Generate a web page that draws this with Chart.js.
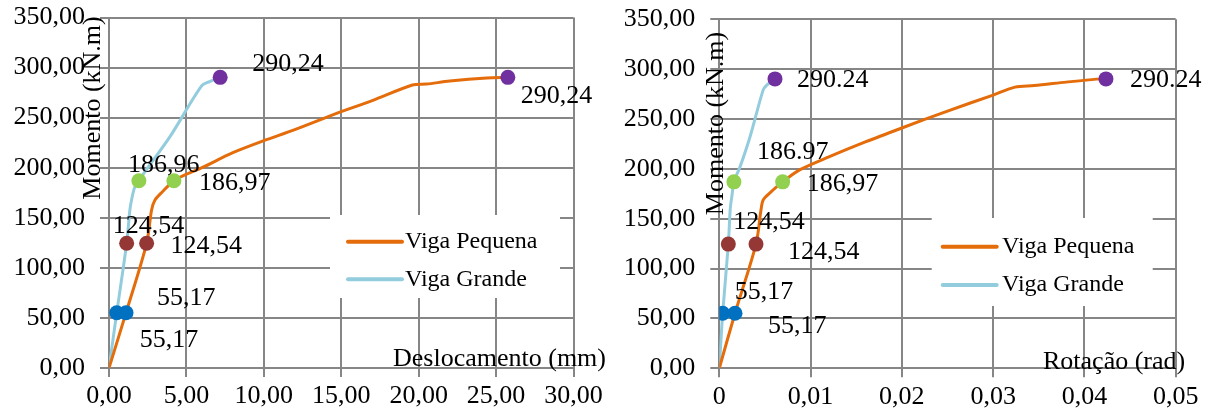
<!DOCTYPE html>
<html>
<head>
<meta charset="utf-8">
<script src="https://cdn.jsdelivr.net/npm/chart.js@4.4.1/dist/chart.umd.min.js"></script>
<style>
  html, body { margin: 0; padding: 0; background: #fff; }
  #wrap { position: relative; width: 1214px; height: 414px; overflow: hidden; }
  .painel { position: absolute; top: 0; width: 607px; height: 414px; }
</style>
</head>
<body>
<div id="wrap">
  <div class="painel" style="left:0"><canvas id="gDesloc" width="607" height="414"></canvas></div>
  <div class="painel" style="left:607px"><canvas id="gRot" width="607" height="414"></canvas></div>
</div>
<script>
// ---- Momento x deslocamento (mm) ----
const deslocPequena   = [0, 1.1, 2.43, 2.75, 2.97, 3.45, 4.19, 4.8, 6, 8, 10, 12, 15, 17, 19.6, 20.5, 22, 24.4, 25.76];
const momentoPequenaD = [0, 55.17, 124.54, 157.8, 167.8, 176, 186.97, 192, 200, 215, 227, 238, 256, 267, 282.6, 283.5, 286.5, 289.6, 290.24];
const deslocGrande    = [0, 0.5, 1.14, 1.35, 1.46, 1.65, 1.93, 2.55, 3.94, 5.98, 6.5, 7.18];
const momentoGrandeD  = [0, 55.17, 124.54, 158, 168, 180, 186.96, 201, 231, 281.6, 286, 290.24];

// ---- Momento x rotação (rad) ----
const rotPequena      = [0, 0.00172, 0.00402, 0.00457, 0.00482, 0.00555, 0.00694, 0.0088, 0.012, 0.016, 0.02, 0.025, 0.03, 0.0324, 0.0345, 0.038, 0.0413, 0.04236];
const momentoPequenaR = [0, 55.17, 124.54, 159, 169, 176, 186.97, 199, 212, 227, 241, 258, 274, 282, 283.5, 287, 290, 290.24];
const rotGrande       = [0, 0.00037, 0.00099, 0.0012, 0.0014, 0.0016, 0.00227, 0.00336, 0.0048, 0.0052, 0.0061];
const momentoGrandeR  = [0, 55.17, 124.54, 160, 174, 186.97, 202, 232, 279, 284, 290.24];

// índices dos pontos notáveis de cada curva
const marcosPequenaD = [1, 2, 6, 18];
const marcosGrandeD  = [1, 2, 6, 11];
const marcosPequenaR = [1, 2, 6, 17];
const marcosGrandeR  = [1, 2, 5, 10];

// separador decimal usado em cada rótulo
const sepPequenaD = [',', ',', ',', ','];
const sepGrandeD  = [',', ',', ',', ','];
const sepPequenaR = [',', ',', ',', '.'];
const sepGrandeR  = [',', ',', '.', '.'];

// textos dos eixos
const yTicks        = ['0,00', '50,00', '100,00', '150,00', '200,00', '250,00', '300,00', '350,00'];
const xTicksDesloc  = ['0,00', '5,00', '10,00', '15,00', '20,00', '25,00', '30,00'];
const xTicksRot     = ['0', '0,01', '0,02', '0,03', '0,04', '0,05'];
const nomesSeries   = ['Viga Pequena', 'Viga Grande'];
const tituloY       = 'Momento (kN.m)';
const tituloXDesloc = 'Deslocamento (mm)';
const tituloXRot    = 'Rotação (rad)';

// estilo
const fonteSerif = "'Liberation Serif', 'Times New Roman', serif";
const corGrade = '#868686';
const corPequena = '#E46C0A';
const corGrande = '#93CDDD';
const coresMarcos = ['#0070C0', '#953735', '#92D050', '#7030A0'];

// deslocamento de cada rótulo em relação ao seu ponto (px)
const posRotPequenaD = [[31, -15], [24, 3], [25, 2], [13, 19]];
const posRotGrandeD  = [[23, 27], [-14, -17], [-11, -16], [32, -13]];
const posRotPequenaR = [[33, 13], [32, 8], [24, 2], [24, 1]];
const posRotGrandeR  = [[12, -21], [5, -22], [23, -30], [22, 1]];

function pares(xs, ys) { return xs.map((x, i) => ({ x, y: ys[i] })); }

function serieLinha(nome, xs, ys, cor, ordem) {
  return {
    label: nome, data: pares(xs, ys), showLine: true,
    borderColor: cor, backgroundColor: cor, borderWidth: 3,
    pointRadius: 0, pointHoverRadius: 0, tension: 0.3, order: ordem
  };
}

function serieMarcos(xs, ys, idx, seps, pos) {
  return {
    label: '', data: idx.map(i => ({ x: xs[i], y: ys[i] })), showLine: false,
    pointRadius: 7.5, pointHoverRadius: 7.5, pointBorderWidth: 0,
    pointBackgroundColor: coresMarcos, pointBorderColor: coresMarcos, order: 0,
    rotulos: idx.map((i, k) => ({
      texto: ys[i].toFixed(2).replace('.', seps[k]), dx: pos[k][0], dy: pos[k][1]
    }))
  };
}

const pluginAnotacoes = {
  id: 'anotacoes',
  afterDraw(chart, args, o) {
    const ctx = chart.ctx;
    ctx.save();
    ctx.textBaseline = 'middle';

    // legenda
    const lg = o.legenda;
    ctx.fillStyle = '#fff';
    ctx.fillRect(lg.x, lg.y, lg.w, lg.h);
    ctx.font = '24px ' + fonteSerif;
    ctx.textAlign = 'left';
    chart.data.datasets.filter(d => !d.rotulos).forEach((ds, k) => {
      const y = lg.linha0 + k * lg.passo;
      ctx.strokeStyle = ds.borderColor;
      ctx.lineWidth = 4;
      ctx.lineCap = 'round';
      ctx.beginPath();
      ctx.moveTo(lg.amostra0, y);
      ctx.lineTo(lg.amostra1, y);
      ctx.stroke();
      ctx.fillStyle = '#000';
      ctx.fillText(ds.label, lg.textoX, y);
    });

    ctx.fillStyle = '#000';
    ctx.font = '26px ' + fonteSerif;

    // rótulos de valores
    chart.data.datasets.forEach((ds, i) => {
      if (!ds.rotulos) return;
      chart.getDatasetMeta(i).data.forEach((pt, j) => {
        const r = ds.rotulos[j];
        ctx.fillText(r.texto, pt.x + r.dx, pt.y + r.dy);
      });
    });

    // títulos dos eixos
    const tx = o.tituloX;
    ctx.textAlign = 'left';
    ctx.fillText(tx.texto, tx.x, tx.y);
    const ty = o.tituloY;
    ctx.translate(ty.x, ty.y);
    ctx.rotate(-Math.PI / 2);
    ctx.textAlign = 'center';
    ctx.fillText(ty.texto, 0, 0);
    ctx.restore();
  }
};

function eixo(min, max, passo, textos, ajuste, pad) {
  return {
    type: 'linear', min, max,
    ticks: {
      stepSize: passo, autoSkip: false, maxRotation: 0, padding: pad,
      color: '#000', font: { family: fonteSerif, size: 26 },
      callback: (v, i) => textos[i]
    },
    grid: { color: corGrade, lineWidth: 2, tickLength: 9, drawTicks: true },
    border: { color: corGrade, width: 2 },
    afterFit: s => {
      ajuste(s);
      s.paddingTop = 0; s.paddingBottom = 0; s.paddingLeft = 0; s.paddingRight = 0;
    }
  };
}

function grafico(id, datasets, xMax, xPasso, xTextos, larguraY, altX, padding, anot) {
  return new Chart(document.getElementById(id), {
    type: 'scatter',
    data: { datasets },
    options: {
      responsive: false, animation: false, events: [],
      layout: { padding },
      scales: {
        x: eixo(0, xMax, xPasso, xTextos, s => { s.height = altX; }, 4),
        y: eixo(0, 350, 50, yTicks, s => { s.width = larguraY; }, 15)
      },
      plugins: { legend: { display: false }, tooltip: { enabled: false }, anotacoes: anot }
    },
    plugins: [pluginAnotacoes]
  });
}

grafico('gDesloc', [
  serieMarcos(deslocPequena, momentoPequenaD, marcosPequenaD, sepPequenaD, posRotPequenaD),
  serieMarcos(deslocGrande, momentoGrandeD, marcosGrandeD, sepGrandeD, posRotGrandeD),
  serieLinha(nomesSeries[0], deslocPequena, momentoPequenaD, corPequena, 1),
  serieLinha(nomesSeries[1], deslocGrande, momentoGrandeD, corGrande, 2)
], 30, 5, xTicksDesloc, 109, 46, { left: 0, right: 33.5, top: 17.5, bottom: 0 }, {
  legenda: { x: 330, y: 215, w: 230, h: 83, linha0: 241.7, passo: 37.6, amostra0: 348, amostra1: 402, textoX: 405 },
  tituloX: { texto: tituloXDesloc, x: 393, y: 359 },
  tituloY: { texto: tituloY, x: 93, y: 108 }
});

grafico('gRot', [
  serieMarcos(rotPequena, momentoPequenaR, marcosPequenaR, sepPequenaR, posRotPequenaR),
  serieMarcos(rotGrande, momentoGrandeR, marcosGrandeR, sepGrandeR, posRotGrandeR),
  serieLinha(nomesSeries[0], rotPequena, momentoPequenaR, corPequena, 1),
  serieLinha(nomesSeries[1], rotGrande, momentoGrandeR, corGrande, 2)
], 0.05, 0.01, xTicksRot, 112.3, 45.7, { left: 0, right: 38.3, top: 19.3, bottom: 0 }, {
  legenda: { x: 324.7, y: 218, w: 221, h: 88, linha0: 246.7, passo: 38.3, amostra0: 335.7, amostra1: 389.7, textoX: 395 },
  tituloX: { texto: tituloXRot, x: 436, y: 362 },
  tituloY: { texto: tituloY, x: 109.5, y: 123.5 }
});
</script>
</body>
</html>
